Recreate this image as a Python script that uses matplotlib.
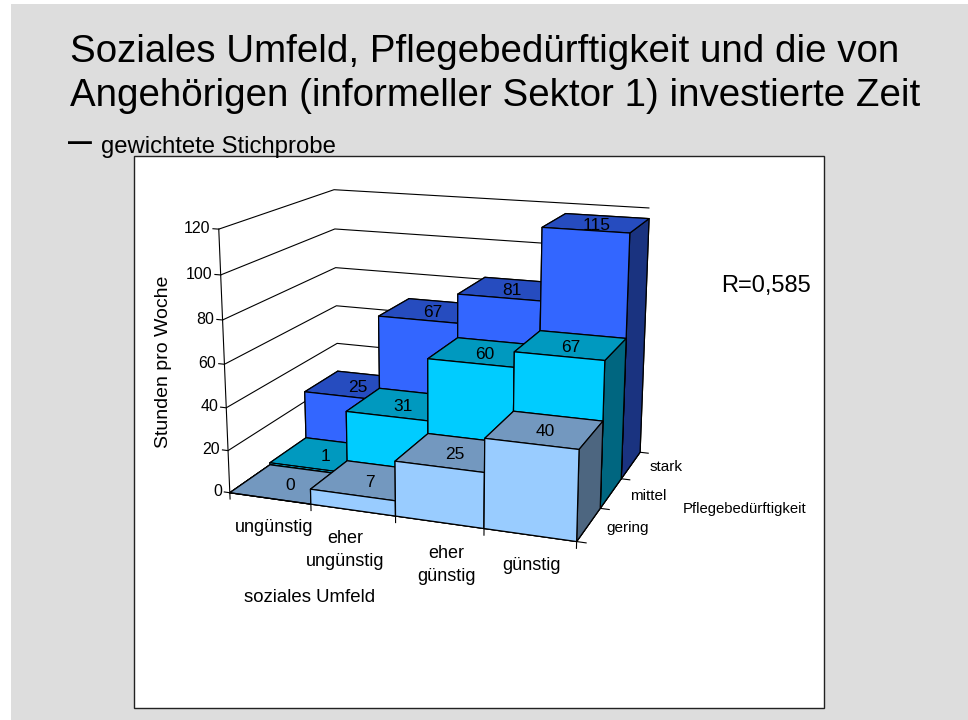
import numpy as np
import matplotlib
matplotlib.use("Agg")
import matplotlib.pyplot as plt

umfeld = ["ungünstig", "eher\nungünstig", "eher\ngünstig", "günstig"]
pflege = ["gering", "mittel", "stark"]
gering = [0, 7, 25, 40]
mittel = [1, 31, 60, 67]
stark = [25, 67, 81, 115]
z_ticks = [0, 20, 40, 60, 80, 100, 120]

front_cols = ["#99CCFF", "#00CCFF", "#3366FF"]
top_cols = ["#7398BF", "#0099BF", "#264CBF"]
side_cols = ["#4D6680", "#006680", "#1A3380"]

plt.rcParams["font.family"] = ["Liberation Sans", "DejaVu Sans"]

W, H = 968, 720


def fx(px):
    return px / W


def fy(py):
    return 1 - py / H


fig = plt.figure(figsize=(9.68, 7.2), dpi=100, facecolor="white")
fig.add_artist(plt.Rectangle((fx(11), 0), 1 - fx(11), fy(4), transform=fig.transFigure,
                             facecolor="#DDDDDD", edgecolor="none", zorder=-5))
# weisser Kasten hinter dem Diagramm
fig.add_artist(plt.Rectangle((fx(134), fy(708)), 690 / W, 552 / H, transform=fig.transFigure,
                             facecolor="white", edgecolor="#222222", lw=1.0, zorder=-4))

fig.text(fx(70), fy(52), "Soziales Umfeld, Pflegebedürftigkeit und die von", fontsize=27.7, va="center")
fig.text(fx(70), fy(96), "Angehörigen (informeller Sektor 1) investierte Zeit", fontsize=27.7, va="center")
fig.text(fx(68), fy(142), "–", fontsize=31, va="center")
fig.text(fx(101), fy(147), "gewichtete Stichprobe", fontsize=17.2, va="center")

# Blickwinkel an die Ecken der Vorlage angepasst
ax = fig.add_axes([fx(90.7), fy(631.43), 690 / W, 552 / H], projection="3d")
ax.patch.set_alpha(0)
ax.set_proj_type("persp", focal_length=0.4731)
ax.view_init(elev=15.098, azim=-69.6769)
ax.set_box_aspect((1.34, 0.9838, 1.0), zoom=0.8955)
ax.set_xlim(0, 4)
ax.set_ylim(0, 3)
ax.set_zlim(0, 120)

for axis in (ax.xaxis, ax.yaxis, ax.zaxis):
    axis.set_pane_color((1, 1, 1, 0))
    axis.pane.set_edgecolor("#808080")
    axis.line.set_color("black")
    axis.line.set_linewidth(0.8)
    axis._axinfo["tick"].update(inward_factor=0, outward_factor=0)
ax.zaxis._axinfo["grid"].update(color="black", linewidth=0.8)
ax.xaxis._axinfo["grid"].update(color=(1, 1, 1, 0), linewidth=0)
ax.yaxis._axinfo["grid"].update(color=(1, 1, 1, 0), linewidth=0)

rows = [gering, mittel, stark]
for j in range(2, -1, -1):
    vals = rows[j]
    for i in range(4):
        # Reihenfolge: unten, oben, vorne, hinten, links, rechts
        cols = [top_cols[j], top_cols[j], front_cols[j], front_cols[j], side_cols[j], side_cols[j]]
        ax.bar3d(i, j, 0, 1, 1, vals[i], color=cols, edgecolor="black", linewidth=0.9, shade=False)
        ax.text(i + 0.5, j + 0.5, vals[i] - 1, str(vals[i]), fontsize=12.5, ha="center", va="center", zorder=100)

ax.set_xticks(range(5))
ax.set_xticklabels([])
ax.set_yticks(range(4))
ax.set_yticklabels([])
ax.set_zticks(z_ticks)
ax.set_zticklabels([])
ax.zaxis.set_ticks_position("lower")

# Striche und Beschriftung von Hand, die eigenen von mplot3d sitzen falsch
for z in z_ticks:
    ax.plot([-0.07, 0], [0, 0], [z, z], color="black", lw=0.8)
    ax.text(-0.1, 0, z, str(z), fontsize=11.5, ha="right", va="center")
for i in range(5):
    ax.plot([i, i], [0, 0], [0, -3], color="black", lw=0.8)
for j in range(4):
    ax.plot([4, 4.1], [j, j], [0, 0], color="black", lw=0.8)

label_shift = [0.17, 0.0, 0.13, 0.03]
for i, name in enumerate(umfeld):
    ax.text(i + 0.65 + label_shift[i], -0.55, 0, name, fontsize=13, ha="center", va="top", linespacing=1.5)
for j, name in enumerate(pflege):
    ax.text(4.42, j + 0.5, 1, name, fontsize=11, ha="center", va="center")

fig.text(fx(164), fy(362), "Stunden pro Woche", fontsize=14, rotation=90, ha="center", va="center")
fig.text(fx(310), fy(598), "soziales Umfeld", fontsize=13.4, ha="center", va="center")
fig.text(fx(745), fy(509), "Pflegebedürftigkeit", fontsize=10.7, ha="center", va="center")
fig.text(fx(766), fy(286), "R=0,585", fontsize=17, ha="center", va="center")

fig.savefig("out.png", dpi=100, facecolor=fig.get_facecolor())
